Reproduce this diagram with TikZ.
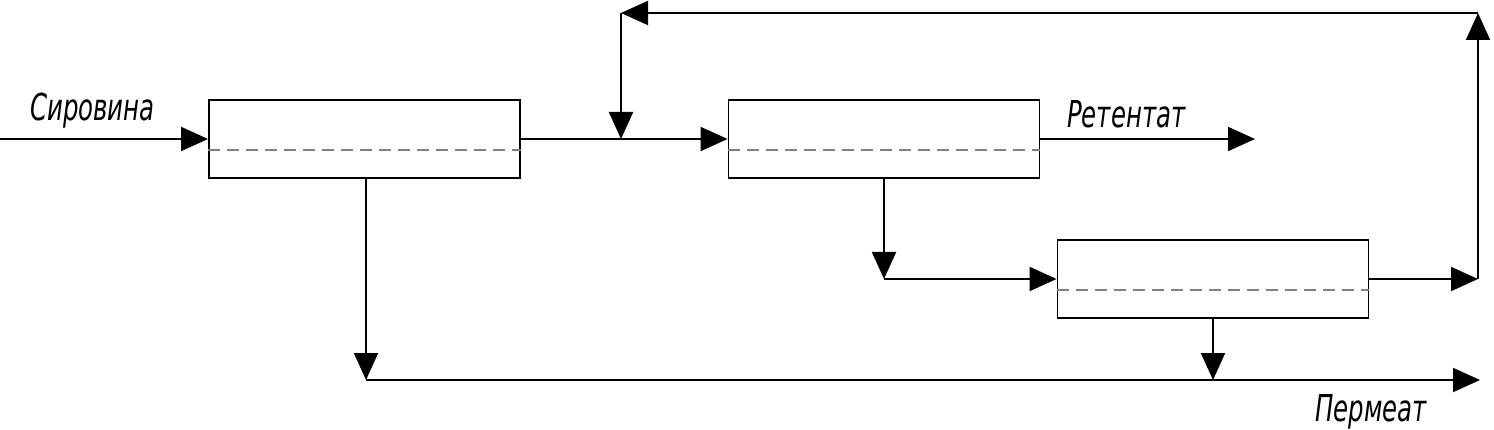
\documentclass[tikz,border=0pt]{standalone}
\usepackage{fontspec}
\newfontfamily\gost{DejaVu Sans}[FakeStretch=0.66]
\usetikzlibrary{arrows.meta}
\tikzset{
  flow/.style={line width=1.9pt, -{Triangle[length=27pt,width=24pt]}},
  unit/.style={draw, line width=1.9pt, minimum width=311pt, minimum height=78pt, inner sep=0pt},
  membrane/.style={draw=gray, line width=1.1pt, dash pattern=on 12pt off 7pt},
  lbl/.style={font=\gost\itshape\fontsize{37}{37}\selectfont, inner sep=0pt}
}
\begin{document}
\begin{tikzpicture}[x=1pt,y=-1pt]
\useasboundingbox (0,0) rectangle (1494,430);
% units
\node[unit] (b1) at (364.5,139) {};
\node[unit] (b2) at (884,139) {};
\node[unit] (b3) at (1213,279) {};
\draw[membrane] ([yshift=-11pt]b1.west) -- ([yshift=-11pt]b1.east);
\draw[membrane] ([yshift=-11pt]b2.west) -- ([yshift=-11pt]b2.east);
\draw[membrane] ([yshift=-11pt]b3.west) -- ([yshift=-11pt]b3.east);
% coordinates
\coordinate (in) at (0,139);
\coordinate (j) at (621,139);
\coordinate (rout) at (1255,139);
\coordinate (c2) at (884,279);
\coordinate (r1) at (1478,279);
\coordinate (r2) at (1478,13);
\coordinate (r3) at (621,13);
\coordinate (p1) at (366,380);
\coordinate (pout) at (1480,380);
\coordinate (p3) at (1213,380);
% flows
\draw[flow] (in) -- (b1.west);
\draw[flow] (b1.east) -- (b2.west);
\draw[flow] (b2.east) -- (rout);
\draw[flow] (b2.south) -- (c2);
\draw[flow] (c2) -- (b3.west);
\draw[flow] (b3.east) -- (r1);
\draw[flow] (r1) -- (r2);
\draw[flow] (r2) -- (r3);
\draw[flow] (r3) -- (j);
\draw[flow] (b1.south -| p1) -- (p1);
\draw[flow] (p1) -- (pout);
\draw[flow] (b3.south) -- (p3);
% labels
\node[lbl, anchor=base west] (l1) at (30,121) {Сировина};
\node[lbl, anchor=base west] (l2) at (1067,128) {Ретентат};
\node[lbl, anchor=base west] (l3) at (1315,421) {Пермеат};
\end{tikzpicture}
\end{document}
